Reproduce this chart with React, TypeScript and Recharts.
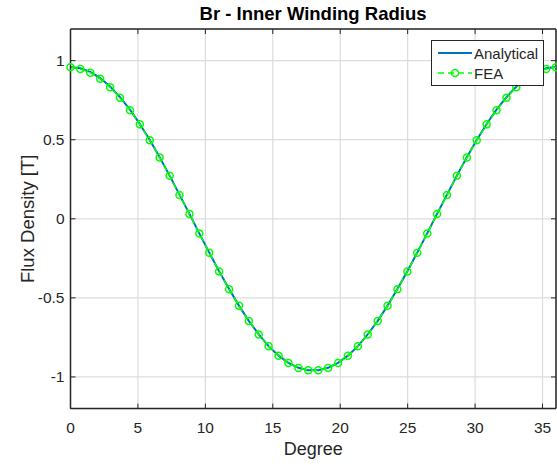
import { LineChart, Line, XAxis, YAxis, CartesianGrid, Legend, ReferenceLine } from 'recharts';

// Rotor angle (deg) and radial flux density at the inner winding radius
const degree = [
  0, 0.73, 1.47, 2.2, 2.94, 3.67, 4.41, 5.14, 5.88, 6.61, 7.35, 8.08, 8.82, 9.55, 10.29, 11.02, 11.76,
  12.49, 13.22, 13.96, 14.69, 15.43, 16.16, 16.9, 17.63, 18.37, 19.1, 19.84, 20.57, 21.31, 22.04, 22.78,
  23.51, 24.24, 24.98, 25.71, 26.45, 27.18, 27.92, 28.65, 29.39, 30.12, 30.86, 31.59, 32.33, 33.06, 33.8,
  34.53, 35.27, 36,
];

const analytical = [
  0.96, 0.952, 0.929, 0.89, 0.836, 0.769, 0.69, 0.599, 0.498, 0.389, 0.273, 0.153, 0.031, -0.092, -0.214,
  -0.332, -0.444, -0.549, -0.645, -0.731, -0.805, -0.865, -0.911, -0.942, -0.958,
  -0.958, -0.942, -0.911, -0.865, -0.805, -0.731, -0.645, -0.549, -0.444, -0.332, -0.214, -0.092, 0.031,
  0.153, 0.273, 0.389, 0.498, 0.599, 0.69, 0.769, 0.836, 0.89, 0.929, 0.952, 0.96,
];

const fea = [
  0.958, 0.947, 0.924, 0.886, 0.832, 0.766, 0.687, 0.597, 0.496, 0.387, 0.272, 0.151, 0.03, -0.093, -0.215,
  -0.333, -0.445, -0.55, -0.646, -0.732, -0.806, -0.866, -0.912, -0.943, -0.957,
  -0.957, -0.943, -0.912, -0.866, -0.806, -0.732, -0.646, -0.55, -0.445, -0.333, -0.215, -0.093, 0.03,
  0.151, 0.272, 0.387, 0.496, 0.597, 0.687, 0.766, 0.832, 0.886, 0.924, 0.947, 0.958,
];

const xTicks = [0, 5, 10, 15, 20, 25, 30, 35];
const yTicks = [-1, -0.5, 0, 0.5, 1];

const chartData = degree.map((d, i) => ({ degree: d, analytical: analytical[i], fea: fea[i] }));

const FONT = '"Liberation Sans", Arial, Helvetica, sans-serif';
const INK = '#262626';
const PLOT_TOP = 29;
const PLOT_RIGHT = 556;

const XTick = (props: any) => {
  const { x, y, payload } = props;
  return (
    <g>
      <line x1={x} x2={x} y1={y} y2={y - 5} stroke={INK} strokeWidth={1} />
      <line x1={x} x2={x} y1={PLOT_TOP} y2={PLOT_TOP + 5} stroke={INK} strokeWidth={1} />
      <text x={x} y={y + 24} textAnchor="middle" fill={INK} fontSize={15.5} fontFamily={FONT}>
        {payload.value}
      </text>
    </g>
  );
};

const YTick = (props: any) => {
  const { x, y, payload } = props;
  return (
    <g>
      <line x1={x} x2={x + 5} y1={y} y2={y} stroke={INK} strokeWidth={1} />
      <line x1={PLOT_RIGHT - 5} x2={PLOT_RIGHT} y1={y} y2={y} stroke={INK} strokeWidth={1} />
      <text x={x - 6} y={y + 5} textAnchor="end" fill={INK} fontSize={15.5} fontFamily={FONT}>
        {payload.value}
      </text>
    </g>
  );
};

const XLabel = (props: any) => {
  const vb = props.viewBox;
  return (
    <text x={vb.x + vb.width / 2} y={455} textAnchor="middle" fill={INK} fontSize={18} fontFamily={FONT}>
      Degree
    </text>
  );
};

const YLabel = (props: any) => {
  const vb = props.viewBox;
  const cy = vb.y + vb.height / 2;
  return (
    <text
      x={34}
      y={cy}
      transform={`rotate(-90 34 ${cy})`}
      textAnchor="middle"
      fill={INK}
      fontSize={18.5}
      fontFamily={FONT}
    >
      Flux Density [T]
    </text>
  );
};

const LegendBox = () => (
  <div
    style={{
      border: `1px solid ${INK}`,
      background: '#fff',
      width: 113,
      height: 46,
      boxSizing: 'border-box',
      fontFamily: FONT,
      fontSize: 15,
      color: INK,
      paddingTop: 2,
    }}
  >
    <div style={{ display: 'flex', alignItems: 'center', height: 20 }}>
      <svg width={42} height={20}>
        <line x1={6} x2={40} y1={10} y2={10} stroke="#0072BD" strokeWidth={2} />
      </svg>
      <span>Analytical</span>
    </div>
    <div style={{ display: 'flex', alignItems: 'center', height: 20 }}>
      <svg width={42} height={20}>
        <line x1={6} x2={40} y1={10} y2={10} stroke="#00FF00" strokeWidth={1.5} strokeDasharray="6 4" />
        <circle cx={23} cy={10} r={3.5} stroke="#00FF00" strokeWidth={1.5} fill="none" />
      </svg>
      <span>FEA</span>
    </div>
  </div>
);

const App = () => {
  return (
    <div style={{ position: 'absolute', left: 0, top: 0, width: 557, height: 465, background: '#fff' }}>
      <div
        style={{
          position: 'absolute',
          left: 70,
          width: 486,
          top: 3,
          textAlign: 'center',
          fontFamily: FONT,
          fontWeight: 'bold',
          fontSize: 18.5,
          color: '#000',
        }}
      >
        Br - Inner Winding Radius
      </div>
      <LineChart width={557} height={465} data={chartData} margin={{ top: PLOT_TOP, right: 1, bottom: 0, left: 0 }}>
        <CartesianGrid stroke="#dcdcdc" strokeWidth={1.2} />
        <XAxis
          dataKey="degree"
          type="number"
          domain={[0, 36]}
          ticks={xTicks}
          interval={0}
          height={56.4}
          tickSize={0}
          tickMargin={0}
          tickLine={false}
          axisLine={{ stroke: INK, strokeWidth: 1.5 }}
          tick={<XTick />}
          label={{ content: XLabel }}
        />
        <YAxis
          type="number"
          domain={[-1.2, 1.2]}
          ticks={yTicks}
          interval={0}
          width={70.5}
          allowDataOverflow
          tickSize={0}
          tickMargin={0}
          tickLine={false}
          axisLine={{ stroke: INK, strokeWidth: 1.5 }}
          tick={<YTick />}
          label={{ content: YLabel }}
        />
        <ReferenceLine y={1.2} stroke={INK} strokeWidth={1.5} />
        <ReferenceLine x={36} stroke={INK} strokeWidth={1.5} />
        <Line
          type="linear"
          dataKey="analytical"
          name="Analytical"
          stroke="#0072BD"
          strokeWidth={2}
          dot={false}
          isAnimationActive={false}
        />
        <Line
          type="linear"
          dataKey="fea"
          name="FEA"
          stroke="#00FF00"
          strokeWidth={1.5}
          strokeDasharray="6 4"
          dot={{ r: 3.5, stroke: '#00FF00', strokeWidth: 1.5, fill: 'none', strokeDasharray: 'none' }}
          isAnimationActive={false}
        />
        <Legend
          layout="horizontal"
          verticalAlign="middle"
          align="center"
          wrapperStyle={{ left: 431, top: 40, width: 113 }}
          content={<LegendBox />}
        />
      </LineChart>
    </div>
  );
};

export default App;
